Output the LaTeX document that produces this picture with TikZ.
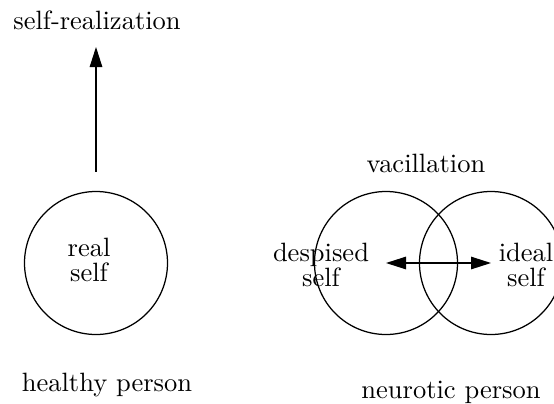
\documentclass[tikz,border=0pt]{standalone}
\usepackage{tikz}
\usetikzlibrary{arrows.meta}
\tikzset{
  ring/.style={draw, circle, line width=0.5pt, minimum size=57.2pt, inner sep=0pt},
  push/.style={draw, line width=0.5pt, -{Triangle[length=8pt,width=5pt]}},
  swing/.style={draw, line width=0.5pt, {Triangle[length=8pt,width=5pt]}-{Triangle[length=8pt,width=5pt]}},
  lab/.style={font=\fontsize{10.6}{10.2}\selectfont, inner sep=0pt, align=center},
}
\begin{document}
\begin{tikzpicture}[x=0.4pt, y=0.4pt]
  \useasboundingbox (0,0) rectangle (554,403);
  % healthy person
  \node[ring] (real) at (96,140) {};
  \node[lab] (goal) at (97,383) {self-realization};
  \coordinate (tip) at (96,356);
  \draw[push, shorten <=7.6pt] (real.north) -- (tip);
  \node[lab] (reallab) at (89,143) {real\\self};
  \node[lab] (healthy) at (107,18) {healthy person};
  % neurotic person
  \node[ring] (despised) at (386,140) {};
  \node[ring] (ideal) at (491,140) {};
  \draw[swing] (despised.center) -- (ideal.center);
  \node[lab] (despisedlab) at (321,138) {despised\\self};
  \node[lab] (ideallab) at (526,138) {ideal\\self};
  \node[lab] (vac) at (426,240) {vacillation};
  \node[lab] (neurotic) at (451,11) {neurotic person};
\end{tikzpicture}
\end{document}
